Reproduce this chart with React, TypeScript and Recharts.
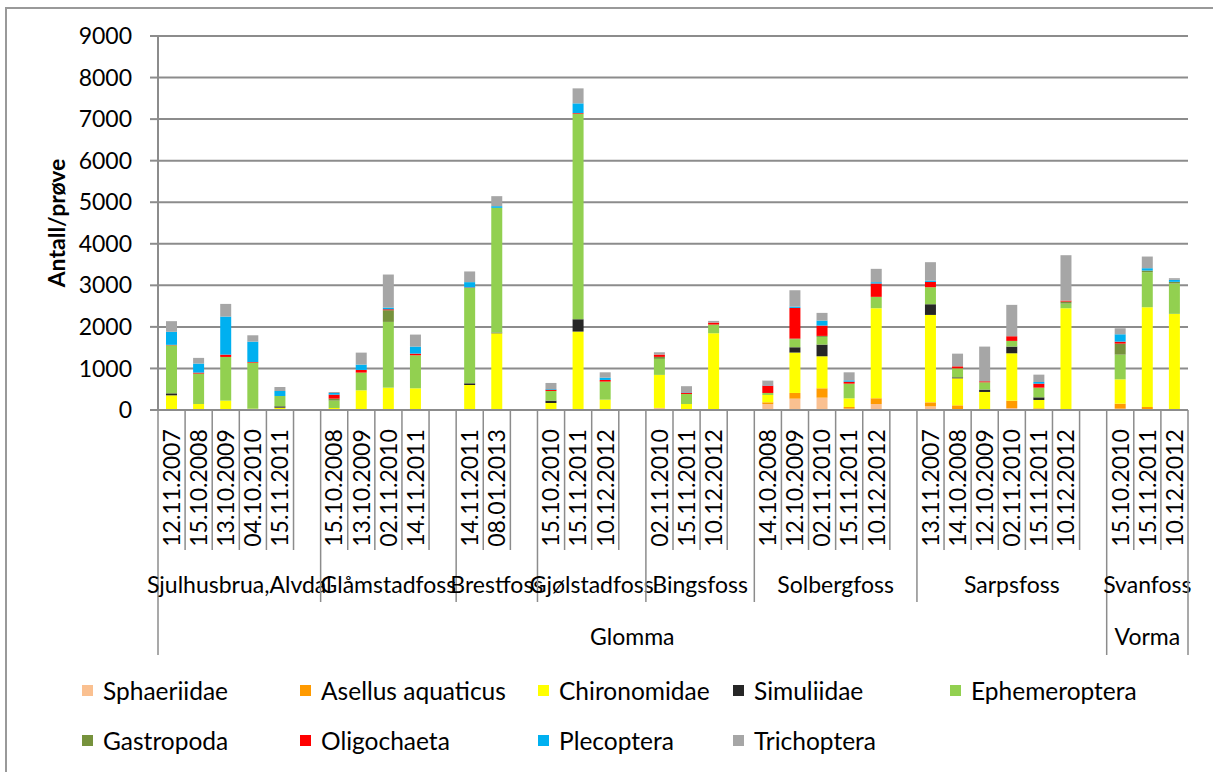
import React from "react";
import { BarChart, Bar, XAxis, YAxis, CartesianGrid } from "recharts";

// sample dates per category slot ("" = spacer slot between sites)
const dates = [
  "12.11.2007", "15.10.2008", "13.10.2009", "04.10.2010", "15.11.2011", "",
  "15.10.2008", "13.10.2009", "02.11.2010", "14.11.2011", "",
  "14.11.2011", "08.01.2013", "",
  "15.10.2010", "15.11.2011", "10.12.2012", "",
  "02.11.2010", "15.11.2011", "10.12.2012", "",
  "14.10.2008", "12.10.2009", "02.11.2010", "15.11.2011", "10.12.2012", "",
  "13.11.2007", "14.10.2008", "12.10.2009", "02.11.2010", "15.11.2011", "10.12.2012", "",
  "15.10.2010", "15.11.2011", "10.12.2012",
];

// site groups: name + number of slots
const sites: [string, number][] = [
  ["Sjulhusbrua,Alvdal", 6],
  ["Glåmstadfoss", 5],
  ["Brestfoss", 3],
  ["Gjølstadfoss", 4],
  ["Bingsfoss", 4],
  ["Solbergfoss", 6],
  ["Sarpsfoss", 7],
  ["Svanfoss", 3],
];

const rivers: [string, number][] = [
  ["Glomma", 35],
  ["Vorma", 3],
];

const sphaeriidae = [0, 0, 0, 0, 0, 0, 0, 0, 0, 0, 0, 0, 0, 0, 0, 0, 0, 0, 50, 0, 0, 0, 145, 273, 297, 32, 145, 0, 88, 0, 0, 48, 0, 0, 0, 32, 0, 0];
const asellus = [0, 0, 0, 0, 0, 0, 0, 0, 0, 0, 0, 0, 0, 0, 0, 0, 0, 0, 0, 0, 0, 0, 40, 137, 225, 40, 137, 0, 96, 112, 0, 177, 40, 0, 0, 120, 72, 0];
const chironomidae = [353, 145, 225, 32, 56, 0, 48, 474, 538, 522, 0, 602, 1847, 0, 169, 1887, 249, 0, 795, 145, 1847, 0, 177, 972, 771, 209, 2168, 0, 2104, 650, 434, 1140, 201, 2449, 0, 586, 2401, 2313];
const simuliidae = [48, 0, 0, 0, 32, 0, 0, 0, 0, 0, 0, 40, 15, 0, 56, 297, 0, 0, 0, 0, 0, 0, 0, 128, 281, 0, 0, 0, 257, 24, 56, 161, 64, 0, 0, 0, 0, 0];
const ephemeroptera = [1157, 731, 1052, 1108, 249, 0, 177, 426, 1582, 795, 0, 2297, 3003, 0, 233, 4946, 434, 0, 385, 241, 209, 0, 48, 193, 185, 353, 273, 0, 410, 217, 177, 137, 233, 112, 0, 594, 843, 731];
const gastropoda = [0, 0, 0, 0, 0, 0, 48, 0, 281, 0, 0, 0, 0, 0, 0, 0, 0, 0, 48, 0, 0, 0, 0, 15, 24, 0, 0, 0, 0, 0, 0, 0, 0, 48, 0, 265, 40, 40];
const oligochaeta = [10, 24, 56, 15, 0, 0, 96, 64, 24, 40, 0, 10, 0, 0, 32, 16, 40, 0, 56, 32, 48, 0, 177, 739, 249, 48, 321, 0, 128, 48, 24, 112, 96, 24, 0, 48, 0, 0];
const plecoptera = [313, 217, 915, 490, 120, 0, 40, 128, 40, 169, 0, 128, 40, 0, 16, 233, 56, 0, 0, 10, 0, 0, 8, 32, 120, 32, 32, 0, 32, 0, 0, 0, 40, 0, 0, 177, 56, 48];
const trichoptera = [257, 137, 305, 153, 96, 0, 24, 289, 795, 289, 0, 257, 241, 0, 145, 361, 128, 0, 56, 145, 40, 0, 112, 393, 185, 193, 321, 0, 442, 305, 835, 755, 177, 1092, 0, 145, 281, 40];

const yTicks = [0, 1000, 2000, 3000, 4000, 5000, 6000, 7000, 8000, 9000];

const series = [
  { name: "Sphaeriidae", color: "#FAC090", values: sphaeriidae },
  { name: "Asellus aquaticus", color: "#FF9A00", values: asellus },
  { name: "Chironomidae", color: "#FFFF00", values: chironomidae },
  { name: "Simuliidae", color: "#262626", values: simuliidae },
  { name: "Ephemeroptera", color: "#92D050", values: ephemeroptera },
  { name: "Gastropoda", color: "#76923C", values: gastropoda },
  { name: "Oligochaeta", color: "#FF0000", values: oligochaeta },
  { name: "Plecoptera", color: "#00B0F0", values: plecoptera },
  { name: "Trichoptera", color: "#A6A6A6", values: trichoptera },
];

const data = dates.map((d, i) => {
  const row: Record<string, string | number> = { key: String(i), date: d };
  series.forEach((s) => (row[s.name] = s.values[i]));
  return row;
});

// layout
const W = 1213;
const H = 772;
const TOP = 36;
const Y_AXIS_W = 158;
const RIGHT = 25;
const X_AXIS_H = 362;
const AXIS_Y = H - X_AXIS_H;
const SLOT_W = (W - Y_AXIS_W - RIGHT) / dates.length;
const FONT = "Lato, 'Open Sans', sans-serif";
const LINE = "#8c8c8c";

const siteStart: Record<number, [string, number]> = {};
let acc = 0;
sites.forEach((s) => {
  siteStart[acc] = s;
  acc += s[1];
});
const riverStart: Record<number, [string, number]> = {};
acc = 0;
rivers.forEach((r) => {
  riverStart[acc] = r;
  acc += r[1];
});

const XTick = (props: any) => {
  const { x, payload } = props;
  const i = Number(payload.value);
  const left = x - SLOT_W / 2;
  const bottom = i in riverStart ? 655 : i in siteStart ? 602 : 550;
  const site = siteStart[i];
  const river = riverStart[i];
  return (
    <g>
      <line x1={left} x2={left} y1={AXIS_Y} y2={bottom} stroke={LINE} strokeWidth={1.5} />
      {i === dates.length - 1 && (
        <line x1={left + SLOT_W} x2={left + SLOT_W} y1={AXIS_Y} y2={655} stroke={LINE} strokeWidth={1.5} />
      )}
      {dates[i] && (
        <text
          x={x}
          y={488}
          transform={`rotate(-90, ${x}, 488)`}
          textAnchor="middle"
          dy="0.36em"
          fontSize={23}
          fontFamily={FONT}
          fill="#000"
        >
          {dates[i]}
        </text>
      )}
      {site && (
        <text x={left + (site[1] * SLOT_W) / 2} y={585} dy="0.36em" textAnchor="middle" fontSize={23} fontFamily={FONT} fill="#000">
          {site[0]}
        </text>
      )}
      {river && (
        <text x={left + (river[1] * SLOT_W) / 2} y={637} dy="0.36em" textAnchor="middle" fontSize={23} fontFamily={FONT} fill="#000">
          {river[0]}
        </text>
      )}
    </g>
  );
};

const YLabel = (props: any) => {
  const { viewBox } = props;
  const cx = 57;
  const cy = viewBox.y + viewBox.height / 2;
  return (
    <text
      x={cx}
      y={cy}
      transform={`rotate(-90, ${cx}, ${cy})`}
      textAnchor="middle"
      dy="0.36em"
      fontSize={23}
      fontWeight="bold"
      fontFamily={FONT}
      fill="#000"
    >
      Antall/prøve
    </text>
  );
};

const legendCols = [82, 300, 538, 733, 950];

export default function App() {
  return (
    <div style={{ position: "absolute", left: 0, top: 0, width: W, height: H, overflow: "hidden", background: "#fff" }}>
      <div
        style={{
          position: "absolute",
          left: 5,
          top: 7,
          width: W + 50,
          height: H + 50,
          border: "2px solid #999",
        }}
      />
      <div style={{ position: "absolute", left: 0, top: 0 }}>
        <BarChart width={W} height={H} data={data} margin={{ top: TOP, right: RIGHT, bottom: 0, left: 0 }} barSize={11}>
          <CartesianGrid vertical={false} stroke={LINE} strokeWidth={2} />
          <XAxis
            dataKey="key"
            interval={0}
            height={X_AXIS_H}
            tickLine={false}
            axisLine={{ stroke: LINE, strokeWidth: 2 }}
            tick={<XTick />}
          />
          <YAxis
            width={Y_AXIS_W}
            domain={[0, 9000]}
            ticks={yTicks}
            interval={0}
            tickSize={8}
            tickMargin={18}
            tickLine={{ stroke: LINE, strokeWidth: 2 }}
            axisLine={{ stroke: LINE, strokeWidth: 2 }}
            tick={{ fontSize: 23, fontFamily: FONT, fill: "#000" }}
            label={<YLabel />}
          />
          {series.map((s) => (
            <Bar key={s.name} dataKey={s.name} stackId="a" fill={s.color} isAnimationActive={false} />
          ))}
        </BarChart>
      </div>
      {series.map((s, i) => {
        const col = legendCols[i % 5];
        const cy = i < 5 ? 690 : 740;
        return (
          <div
            key={s.name}
            style={{
              position: "absolute",
              left: col,
              top: cy - 15,
              height: 30,
              display: "flex",
              alignItems: "center",
              fontFamily: FONT,
              fontSize: 24.5,
              color: "#000",
              whiteSpace: "nowrap",
            }}
          >
            <span style={{ display: "inline-block", width: 11, height: 11, background: s.color, marginRight: 10 }} />
            {s.name}
          </div>
        );
      })}
    </div>
  );
}
